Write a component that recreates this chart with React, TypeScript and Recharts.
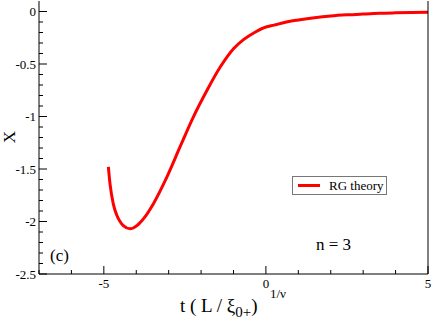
import React from 'react';
import { LineChart, Line, XAxis, YAxis, Legend, Customized } from 'recharts';

// scaling variable t (L/xi)^(1/nu)
const tValues = [
  -4.86, -4.81, -4.71, -4.6, -4.5, -4.4, -4.19, -3.98, -3.88, -3.78, -3.47, -3.06, -2.65,
  -2.24, -1.82, -1.41, -1.0, -0.69, -0.35, 0, 0.25, 0.5, 0.75, 1, 1.5, 2, 2.5, 3, 3.5, 4, 4.5, 5,
];
// X for the RG theory curve
const xValues = [
  -1.48, -1.64, -1.83, -1.94, -2.0, -2.04, -2.07, -2.04, -2.01, -1.975, -1.83, -1.58, -1.29,
  -1.005, -0.752, -0.529, -0.354, -0.268, -0.2, -0.148, -0.13, -0.11, -0.092, -0.08, -0.059,
  -0.043, -0.032, -0.024, -0.017, -0.013, -0.01, -0.008,
];

const xTicks = [-7, -6, -5, -4, -3, -2, -1, 0, 1, 2, 3, 4, 5];
const yTicks = [
  -2.5, -2.4, -2.3, -2.2, -2.1, -2.0, -1.9, -1.8, -1.7, -1.6, -1.5, -1.4, -1.3, -1.2, -1.1,
  -1.0, -0.9, -0.8, -0.7, -0.6, -0.5, -0.4, -0.3, -0.2, -0.1, 0,
];

const data = tValues.map((t, i) => ({ t, x: xValues[i] }));

const FONT = '"Liberation Serif", "Times New Roman", serif';
const serif = { fontFamily: FONT };
const isMajorX = (v: number) => Math.round(v) % 5 === 0;
const isMajorY = (v: number) => Math.abs(Math.round(v * 10)) % 5 === 0;

const BottomTick = ({ x, y, payload }: any) => {
  const major = isMajorX(payload.value);
  return (
    <g>
      <line x1={x} x2={x} y1={y} y2={y - (major ? 8 : 4)} stroke="#000" />
      {major && (
        <text x={x} y={y + 14} textAnchor="middle" fontSize={13} style={serif} fill="#000">
          {payload.value}
        </text>
      )}
    </g>
  );
};

const TopTick = ({ x, y, payload }: any) => {
  const major = isMajorX(payload.value);
  return <line x1={x} x2={x} y1={y} y2={y + (major ? 8 : 4)} stroke="#000" />;
};

const LeftTick = ({ x, y, payload }: any) => {
  const major = isMajorY(payload.value);
  return (
    <g>
      <line x1={x} x2={x + (major ? 8 : 4)} y1={y} y2={y} stroke="#000" />
      {major && (
        <text x={x - 3} y={y + 4.5} textAnchor="end" fontSize={13} style={serif} fill="#000">
          {payload.value}
        </text>
      )}
    </g>
  );
};

const RightTick = ({ x, y, payload }: any) => {
  const major = isMajorY(payload.value);
  return <line x1={x} x2={x - (major ? 8 : 4)} y1={y} y2={y} stroke="#000" />;
};

const LegendBox = () => (
  <div
    style={{
      border: '1px solid #777',
      background: '#fff',
      width: 93,
      height: 17,
      display: 'flex',
      alignItems: 'center',
      fontFamily: FONT,
      fontSize: 13,
      color: '#000',
    }}
  >
    <span style={{ display: 'inline-block', width: 22, height: 3, background: '#ff0000', marginLeft: 5, marginRight: 9 }} />
    <span>RG theory</span>
  </div>
);

const Annotations = () => (
  <g style={serif} fill="#000">
    <text x={9} y={137} fontSize={17} textAnchor="middle" dominantBaseline="central" transform="rotate(-90 9 137)" style={serif}>
      X
    </text>
    <text fontSize={19} style={serif}>
      <tspan x={180} y={312}>t ( L / ξ</tspan>
      <tspan y={317} fontSize={15}>0+</tspan>
      <tspan y={312}>)</tspan>
      <tspan x={270} y={298} fontSize={13}>1/ν</tspan>
    </text>
    <text x={50} y={261} fontSize={17} style={serif}>(c)</text>
    <text x={316} y={250} fontSize={17} style={serif}>n = 3</text>
  </g>
);

export default function App() {
  return (
    <div style={{ position: 'absolute', left: 0, top: 0, background: '#fff' }}>
      <LineChart width={432} height={321} data={data} margin={{ top: 1, right: 0, bottom: 0, left: 0 }}>
        <XAxis
          xAxisId="bottom"
          dataKey="t"
          type="number"
          domain={[-7, 5]}
          ticks={xTicks}
          interval={0}
          height={47}
          tickSize={0}
          tickMargin={0}
          tickLine={false}
          axisLine={{ stroke: '#000' }}
          tick={<BottomTick />}
        />
        <XAxis
          xAxisId="top"
          orientation="top"
          dataKey="t"
          type="number"
          domain={[-7, 5]}
          ticks={xTicks}
          interval={0}
          height={0}
          tickSize={0}
          tickMargin={0}
          tickLine={false}
          axisLine={{ stroke: '#000' }}
          tick={<TopTick />}
        />
        <YAxis
          yAxisId="left"
          type="number"
          domain={[-2.5, 0.1]}
          ticks={yTicks}
          interval={0}
          width={39}
          tickSize={0}
          tickMargin={0}
          tickLine={false}
          axisLine={{ stroke: '#000' }}
          tick={<LeftTick />}
        />
        <YAxis
          yAxisId="right"
          orientation="right"
          type="number"
          domain={[-2.5, 0.1]}
          ticks={yTicks}
          interval={0}
          width={4}
          tickSize={0}
          tickMargin={0}
          tickLine={false}
          axisLine={{ stroke: '#000' }}
          tick={<RightTick />}
        />
        <Line
          xAxisId="bottom"
          yAxisId="left"
          type="monotone"
          dataKey="x"
          name="RG theory"
          stroke="#ff0000"
          strokeWidth={3}
          dot={false}
          isAnimationActive={false}
        />
        <Legend
          layout="vertical"
          align="center"
          verticalAlign="middle"
          content={<LegendBox />}
          wrapperStyle={{ left: 292, top: 176, width: 'auto', height: 'auto' }}
        />
        <Customized component={<Annotations />} />
      </LineChart>
    </div>
  );
}
